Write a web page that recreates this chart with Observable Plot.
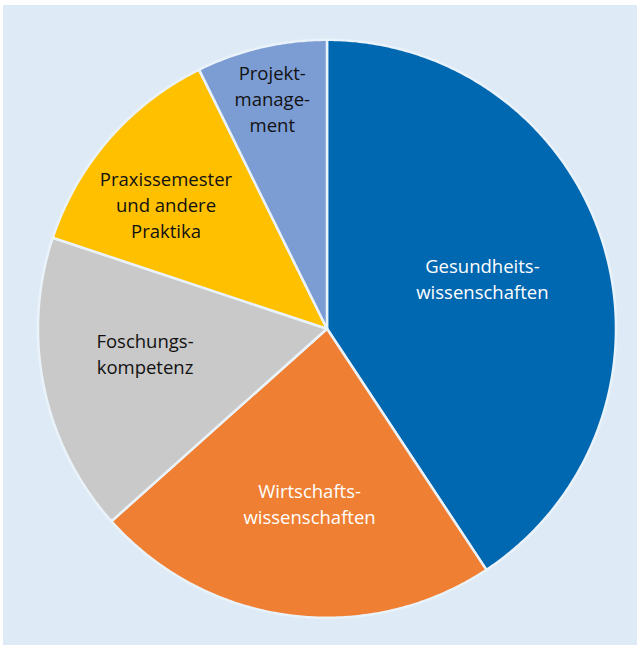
<!DOCTYPE html>
<html>
<head>
<meta charset="utf-8">
<script src="https://cdn.jsdelivr.net/npm/d3@7"></script>
<script src="https://cdn.jsdelivr.net/npm/@observablehq/plot@0.6"></script>
<style>
  html, body { margin: 0; padding: 0; background: #ffffff; }
  #panel { position: absolute; left: 3px; top: 5px; width: 634px; height: 640px; background: #deebf7; }
</style>
</head>
<body>
<div id="panel"></div>
<script>
// ---- data ----
const categories = [
  "Gesundheitswissenschaften",
  "Wirtschaftswissenschaften",
  "Foschungskompetenz",
  "Praxissemester und andere Praktika",
  "Projektmanagement"
];
const labels = [
  "Gesundheits-\nwissenschaften",
  "Wirtschafts-\nwissenschaften",
  "Foschungs-\nkompetenz",
  "Praxissemester\nund andere\nPraktika",
  "Projekt-\nmanage-\nment"
];
const shares = [40.7, 22.7, 16.7, 12.6, 7.3];

// ---- styles / layout ----
const sliceColors = ["#0067b1", "#ee7f33", "#c9c9c9", "#ffc000", "#7c9dd4"];
const lightText = new Set(["Gesundheitswissenschaften", "Wirtschaftswissenschaften"]);
// label placement: [radius as fraction of pie radius, angle nudge in degrees from slice middle]
const labelPlacement = {
  "Gesundheitswissenschaften": [0.562, -0.2],
  "Wirtschaftswissenschaften": [0.620, -1.8],
  "Foschungskompetenz": [0.637, 3.05],
  "Praxissemester und andere Praktika": [0.698, -4.0],
  "Projektmanagement": [0.809, -0.4]
};
const W = 634, H = 640, R = 289, CX = 323.5, CY = 323.3;
const FONT_SIZE = 18.5, LINE_PX = 26, TEXT_DY = -4;

// ---- build geometry in data units (unit circle) ----
const arcs = d3.pie().sort(null).value(d => d)(shares);
const polys = [];
const labelData = [];
arcs.forEach((a, i) => {
  const cat = categories[i];
  polys.push({cat, x: 0, y: 0});
  const n = Math.max(2, Math.ceil((a.endAngle - a.startAngle) / (Math.PI / 360)));
  for (let k = 0; k <= n; k++) {
    const t = a.startAngle + (a.endAngle - a.startAngle) * k / n;
    polys.push({cat, x: Math.sin(t), y: Math.cos(t)});
  }
  const [r, nudge] = labelPlacement[cat];
  const mid = (a.startAngle + a.endAngle) / 2 + nudge * Math.PI / 180;
  labelData.push({cat, label: labels[i], x: r * Math.sin(mid), y: r * Math.cos(mid)});
});

const textOpts = {
  x: "x", y: "y", text: "label",
  fontSize: FONT_SIZE, lineHeight: LINE_PX / FONT_SIZE, dy: TEXT_DY
};

const chart = Plot.plot({
  width: W,
  height: H,
  margin: 0,
  x: {domain: [-CX / R, (W - CX) / R], axis: null},
  y: {domain: [-(H - CY) / R, CY / R], axis: null},
  color: {domain: categories, range: sliceColors},
  style: {background: "transparent", fontFamily: "'Open Sans', sans-serif"},
  marks: [
    Plot.line(polys, {
      x: "x", y: "y", z: "cat", fill: "cat",
      curve: "linear-closed",
      stroke: "#eaf2fa", strokeWidth: 2.5, strokeLinejoin: "round"
    }),
    Plot.text(labelData.filter(d => lightText.has(d.cat)), {...textOpts, fill: "#ffffff"}),
    Plot.text(labelData.filter(d => !lightText.has(d.cat)), {...textOpts, fill: "#111111"})
  ]
});
document.getElementById("panel").appendChild(chart);
</script>
</body>
</html>
